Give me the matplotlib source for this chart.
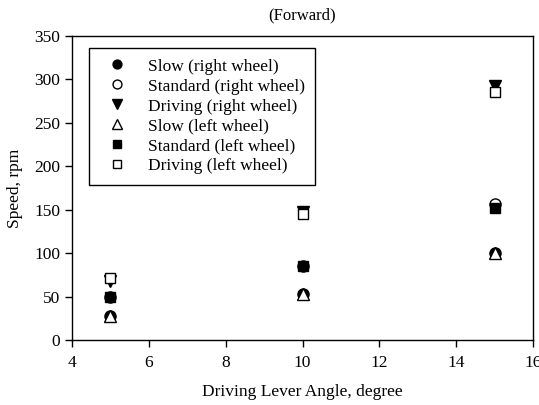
import matplotlib
matplotlib.use("Agg")
import matplotlib.pyplot as plt

angle = [5, 10, 15]
slow_right = [28, 53, 100]
standard_right = [49, 85, 157]
driving_right = [68, 147, 292]
slow_left = [28, 53, 100]
standard_left = [49, 85, 152]
driving_left = [71, 145, 285]

labels = ["Slow (right wheel)", "Standard (right wheel)", "Driving (right wheel)",
          "Slow (left wheel)", "Standard (left wheel)", "Driving (left wheel)"]

plt.rcParams['font.family'] = ['Liberation Serif', 'DejaVu Serif']

fig = plt.figure(figsize=(5.39, 4.05), dpi=100)
ax = fig.add_axes([72/539, 1-340/405, (533-72)/539, (340-36)/405])

series = [
    (slow_right, 'o', 'black', 8.0),
    (standard_right, 'o', 'white', 8.0),
    (driving_right, 'v', 'black', 8.5),
    (slow_left, '^', 'white', 8.5),
    (standard_left, 's', 'black', 7.5),
    (driving_left, 's', 'white', 7.5),
]
for (vals, m, fc, ms), lab in zip(series, labels):
    ax.plot(angle, vals, linestyle='none', marker=m, markersize=ms,
            markerfacecolor=fc, markeredgecolor='black', markeredgewidth=1.0,
            label=lab)

ax.set_xlim(4, 16)
ax.set_ylim(0, 350)
ax.set_xticks([4, 6, 8, 10, 12, 14, 16])
ax.set_yticks([0, 50, 100, 150, 200, 250, 300, 350])
ax.tick_params(direction='out', length=5, labelsize=12.5, width=1)
ax.tick_params(axis='x', pad=6)
for s in ax.spines.values():
    s.set_linewidth(1)
ax.set_xlabel("Driving Lever Angle, degree", fontsize=12.5, labelpad=9)
ax.set_ylabel("Speed, rpm", fontsize=12.5, labelpad=8)
ax.set_title("(Forward)", fontsize=12, pad=12)

leg = ax.legend(loc='upper left', bbox_to_anchor=(17/461, 1-12/304), fontsize=12.5,
                frameon=True, fancybox=False, edgecolor='black', framealpha=1,
                handletextpad=0.8, borderpad=0.6, labelspacing=0.22,
                borderaxespad=0, handlelength=2, markerscale=0.8)
leg.get_frame().set_linewidth(1)

fig.savefig("out.png", dpi=100)
